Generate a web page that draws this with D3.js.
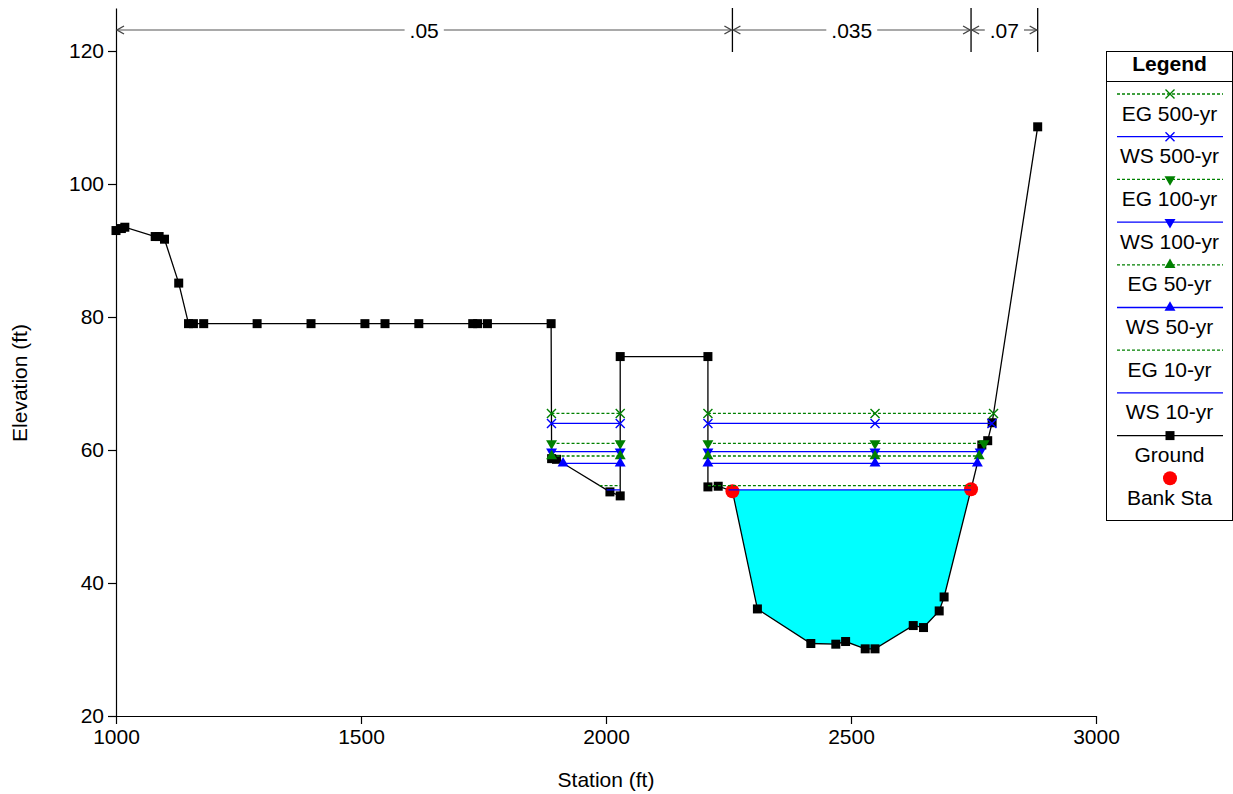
<!DOCTYPE html>
<html><head><meta charset="utf-8">
<script src="https://cdn.jsdelivr.net/npm/d3@7"></script>
<style>body{margin:0;background:#fff} svg text{font-family:"Liberation Sans",Arial,sans-serif}</style>
</head><body><svg id="c" width="1233" height="794"></svg>
<script>
// ---------------- data ----------------
const groundStation = [1000,1011,1018,1080,1088,1099,1128,1148,1158,1179,1288,1398,1508,1549,1618,1728,1738,1758,1888,1889,1899,2008,2029,2029,2208,2208,2229,2258,2309,2418,2469,2489,2529,2549,2627,2648,2680,2690,2745,2767,2779,2788,2881];
const groundElev    = [93.0,93.3,93.5,92.1,92.1,91.7,85.1,79.0,79.0,79.0,79.0,79.0,79.0,79.0,79.0,79.0,79.0,79.0,79.0,58.7,58.6,53.7,53.1,74.05,74.05,54.45,54.55,53.8,36.1,30.9,30.8,31.2,30.1,30.1,33.6,33.3,35.8,37.9,54.1,60.75,61.4,64.1,108.6];
const bankStations = [2258, 2745];
const bankElev = [53.8, 54.1];
const profileNames  = ["EG 500-yr","WS 500-yr","EG 100-yr","WS 100-yr","EG 50-yr","WS 50-yr","EG 10-yr","WS 10-yr"];
const profileElev   = [65.5, 64.0, 61.0, 59.75, 59.1, 58.0, 54.65, 54.0];
const profileMarker = ["x","x","down","down","up","up",null,null];
const midMarkerStations = [2549];
const manningLabels = [".05", ".035", ".07"];
const manningBreaks = [1000, 2258, 2745, 2881];
const xTicks = [1000,1500,2000,2500,3000];
const xMinorTicks = d3.range(1000, 3001, 100);
const yTicks = [20,40,60,80,100,120];
const yMinorTicks = d3.range(20, 125, 4);

// ---------------- setup ----------------
const svg = d3.select("#c");
const x = d3.scaleLinear().domain([1000,3000]).range([116,1096]);
const y = d3.scaleLinear().domain([20,120]).range([716,51]);
const yTopVal = y.invert(8);
const yAx = d3.scaleLinear().domain([20,yTopVal]).range([716,8]);
const ground = groundStation.map((s,i)=>({s, e:groundElev[i]}));
const isEG = n => n.startsWith("EG");
const lineColor = n => isEG(n) ? "#008000" : "#0000ff";

function wetSegments(level){
  const segs=[]; let start=null;
  if (ground[0].e < level) start = ground[0].s;
  for (let i=0;i<ground.length-1;i++){
    const a=ground[i], b=ground[i+1];
    if ((a.e-level)*(b.e-level) < 0){
      const sc = a.s + (level-a.e)/(b.e-a.e)*(b.s-a.s);
      if (a.e >= level) start = sc; else { segs.push([start, sc]); start=null; }
    }
  }
  if (start!==null) segs.push([start, ground[ground.length-1].s]);
  return segs;
}

// ---------------- axes ----------------
const fs = 21;
const gx = svg.append("g").attr("transform","translate(0,716)");
gx.call(d3.axisBottom(x).tickValues(xMinorTicks).tickFormat("").tickSize(6).tickSizeOuter(0));
gx.call(d3.axisBottom(x).tickValues(xTicks).tickFormat(d3.format("d")).tickSize(8).tickPadding(5).tickSizeOuter(0));
const gy = svg.append("g").attr("transform","translate(116,0)");
gy.call(d3.axisLeft(yAx).tickValues(yMinorTicks).tickFormat("").tickSize(6).tickSizeOuter(0));
gy.call(d3.axisLeft(yAx).tickValues(yTicks).tickFormat(d3.format("d")).tickSize(8).tickPadding(4).tickSizeOuter(0));
svg.selectAll(".tick text").attr("font-size",fs).attr("font-family","Liberation Sans, Arial, sans-serif").attr("fill","#000");
svg.selectAll(".domain, .tick line").attr("stroke","#000").attr("stroke-width",1.2);

svg.append("text").attr("x",606).attr("y",787).attr("text-anchor","middle").attr("font-size",fs).text("Station (ft)");
svg.append("text").attr("transform","translate(27,383) rotate(-90)").attr("text-anchor","middle").attr("font-size",fs).text("Elevation (ft)");

// ---------------- fill ----------------
const fillLevel = profileElev[7];
const fillSeg = wetSegments(fillLevel).sort((a,b)=>(b[1]-b[0])-(a[1]-a[0]))[0];
const fillPts = [[fillSeg[0],fillLevel]]
  .concat(ground.filter(g=>g.s>fillSeg[0] && g.s<fillSeg[1]).map(g=>[g.s,g.e]))
  .concat([[fillSeg[1],fillLevel]]);
svg.append("path").attr("d", d3.line().x(d=>x(d[0])).y(d=>y(d[1]))(fillPts)+"Z").attr("fill","#00ffff");

// ---------------- ground ----------------
svg.append("path").attr("d", d3.line().x(d=>x(d.s)).y(d=>y(d.e))(ground))
  .attr("fill","none").attr("stroke","#000").attr("stroke-width",1.3);
svg.append("g").selectAll("rect").data(ground).join("rect")
  .attr("x",d=>x(d.s)-4.5).attr("y",d=>y(d.e)-4.5).attr("width",9).attr("height",9).attr("fill","#000");

// bank stations
svg.append("g").selectAll("circle").data(bankStations).join("circle")
  .attr("cx",d=>x(d)).attr("cy",(d,i)=>y(bankElev[i])).attr("r",7).attr("fill","#ff0000");

// ---------------- markers ----------------
function drawMarker(g, type, cx, cy, color){
  if (type==="x"){
    g.append("path").attr("d",`M${cx-4.5},${cy-4.5}L${cx+4.5},${cy+4.5}M${cx-4.5},${cy+4.5}L${cx+4.5},${cy-4.5}`)
      .attr("stroke",color).attr("stroke-width",1.4).attr("fill","none");
  } else if (type==="up" || type==="down"){
    g.append("path").attr("d", d3.symbol().type(d3.symbolTriangle).size(52)())
      .attr("transform",`translate(${cx},${cy}) rotate(${type==="down"?180:0})`).attr("fill",color);
  } else if (type==="square"){
    g.append("rect").attr("x",cx-4.5).attr("y",cy-4.5).attr("width",9).attr("height",9).attr("fill",color);
  } else if (type==="circle"){
    g.append("circle").attr("cx",cx).attr("cy",cy).attr("r",7).attr("fill",color);
  }
}

// ---------------- water surfaces ----------------
const wg = svg.append("g");
profileNames.forEach((name,i)=>{
  const lvl = profileElev[i];
  const segs = wetSegments(lvl);
  const col = lineColor(name);
  segs.forEach(sg=>{
    wg.append("line").attr("x1",x(sg[0])).attr("x2",x(sg[1])).attr("y1",y(lvl)).attr("y2",y(lvl))
      .attr("stroke",col).attr("stroke-width",1.3).attr("stroke-dasharray",isEG(name)?"3,2":null);
  });
});
profileNames.forEach((name,i)=>{
  const type = profileMarker[i]; if (!type) return;
  const lvl = profileElev[i];
  const col = lineColor(name);
  wetSegments(lvl).forEach(sg=>{
    const pts = [sg[0], ...midMarkerStations.filter(m=>m>sg[0]&&m<sg[1]), sg[1]];
    pts.forEach(p=>drawMarker(wg,type,x(p),y(lvl),col));
  });
});

// ---------------- Manning's n ----------------
const ny = 30;
const mg = svg.append("g");
manningBreaks.slice(1).forEach(b=>{
  mg.append("line").attr("x1",x(b)).attr("x2",x(b)).attr("y1",8).attr("y2",52).attr("stroke","#000").attr("stroke-width",1.3);
});
manningLabels.forEach((lab,i)=>{
  const x1=x(manningBreaks[i]), x2=x(manningBreaks[i+1]), cx=(x1+x2)/2;
  const t = mg.append("text").attr("x",cx).attr("y",ny+7.5).attr("text-anchor","middle").attr("font-size",fs).text(lab);
  const w = t.node().getComputedTextLength();
  mg.append("line").attr("x1",x1+1).attr("x2",cx-w/2-5).attr("y1",ny).attr("y2",ny).attr("stroke","#555").attr("stroke-width",1.2);
  mg.append("line").attr("x1",cx+w/2+5).attr("x2",x2-1).attr("y1",ny).attr("y2",ny).attr("stroke","#555").attr("stroke-width",1.2);
  mg.append("path").attr("d",`M${x1+8},${ny-4}L${x1+1},${ny}L${x1+8},${ny+4}`).attr("fill","none").attr("stroke","#444").attr("stroke-width",1.4);
  mg.append("path").attr("d",`M${x2-8},${ny-4}L${x2-1},${ny}L${x2-8},${ny+4}`).attr("fill","none").attr("stroke","#444").attr("stroke-width",1.4);
});

// ---------------- legend ----------------
const lg = svg.append("g");
lg.append("rect").attr("x",1106.5).attr("y",51.5).attr("width",126).attr("height",469).attr("fill","#fff").attr("stroke","#000").attr("stroke-width",1);
lg.append("line").attr("x1",1106.5).attr("x2",1232.5).attr("y1",81.5).attr("y2",81.5).attr("stroke","#000");
lg.append("text").attr("x",1169.5).attr("y",71).attr("text-anchor","middle").attr("font-size",fs).attr("font-weight","bold").text("Legend");
const legItems = profileNames.map((n,i)=>({name:n, type:"line", color:lineColor(n), dash:isEG(n), marker:profileMarker[i]}))
  .concat([{name:"Ground", type:"line", color:"#000", dash:false, marker:"square"},
           {name:"Bank Sta", type:"point", color:"#ff0000", marker:"circle"}]);
legItems.forEach((it,i)=>{
  const ly = 94 + i*42.7;
  if (it.type==="line"){
    lg.append("line").attr("x1",1117).attr("x2",1223).attr("y1",ly).attr("y2",ly)
      .attr("stroke",it.color).attr("stroke-width",1.3).attr("stroke-dasharray",it.dash?"3,2":null);
  }
  if (it.marker) drawMarker(lg, it.marker, 1170, ly, it.color);
  lg.append("text").attr("x",1169.5).attr("y",ly+26.5).attr("text-anchor","middle").attr("font-size",fs).text(it.name);
});
</script></body></html>
